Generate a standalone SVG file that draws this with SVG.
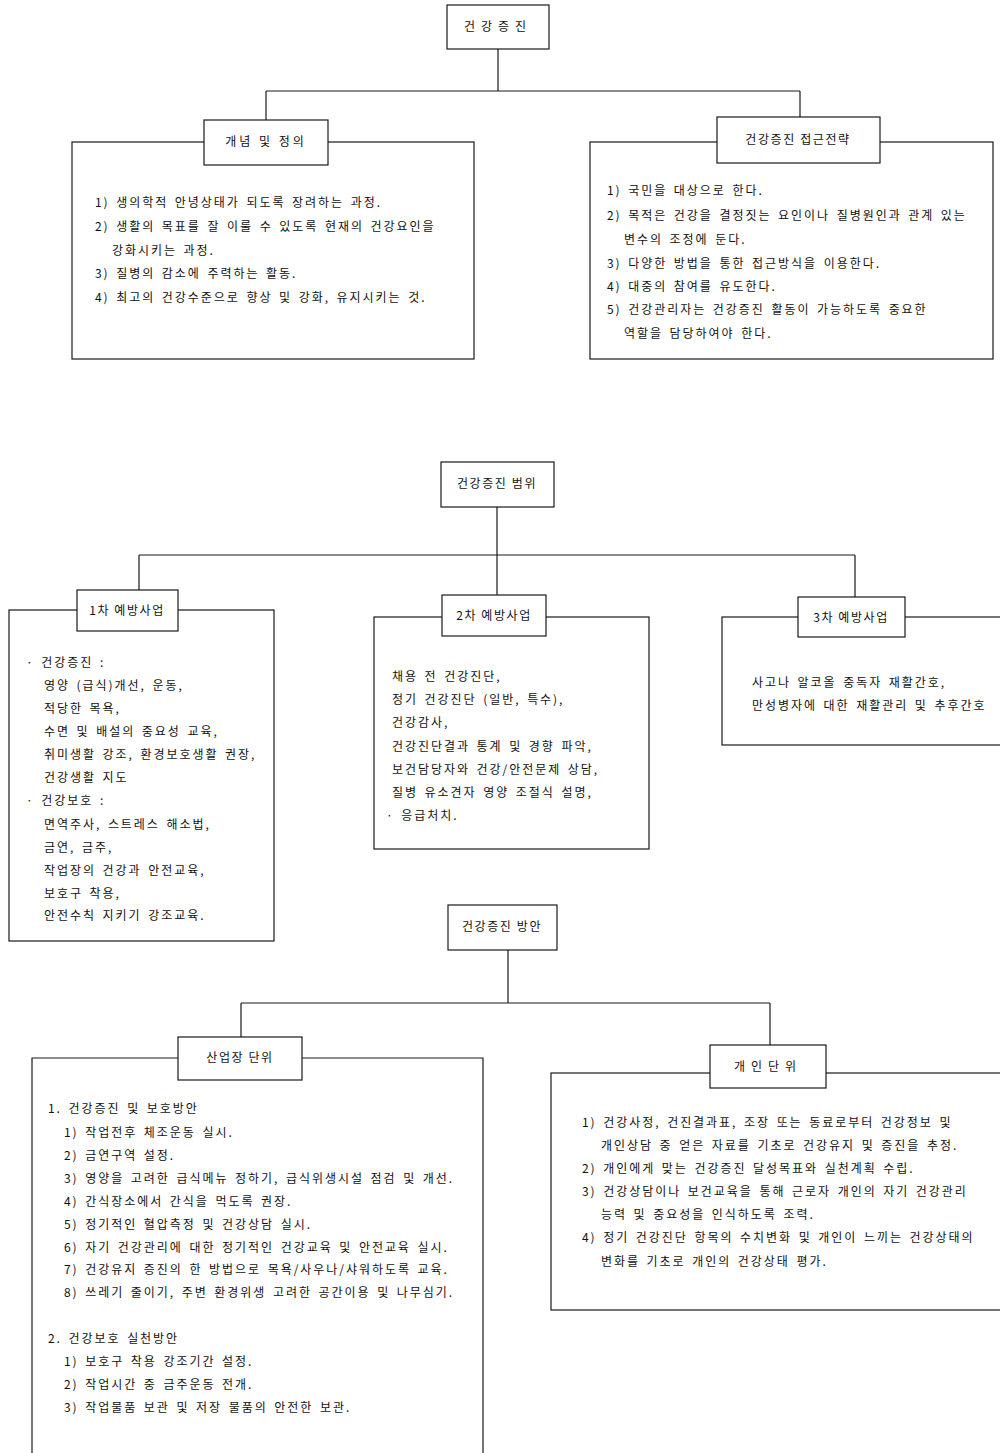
<svg xmlns="http://www.w3.org/2000/svg" width="1000" height="1453" viewBox="0 0 1000 1453">
<style>
.bg{fill:#ffffff}
.box{fill:none;stroke:#1a1a1a;stroke-width:1.2}
.lbl{fill:#ffffff;stroke:#1a1a1a;stroke-width:1.2}
.con{fill:none;stroke:#1a1a1a;stroke-width:1.2}
text{font-family:"Noto Sans CJK KR","Noto Sans",sans-serif;fill:#111111}
.t{font-size:12px;letter-spacing:1.95px;word-spacing:2px}
.h{font-size:12px;letter-spacing:1.6px;text-anchor:middle}
</style>
<rect class="bg" x="0" y="0" width="1000" height="1453"/>
<g id="connectors">
<path class="con" d="M498 49V91M266 91H800M266 91V120M800 91V117"/>
<path class="con" d="M497 507V555M139 555H855M139 555V591M497 555V595M855 555V597"/>
<path class="con" d="M508 950V1003M241 1003H770M241 1003V1037M770 1003V1045"/>
</g>
<g id="n-root">
<rect class="lbl" x="447" y="5" width="102" height="44"/>
<text class="h" x="498" y="31" style="letter-spacing:6px">건강증진</text>
</g>
<g id="n-concept">
<rect class="box" x="72" y="142" width="402" height="217"/>
<rect class="lbl" x="204" y="120" width="124" height="45"/>
<text class="h" x="266" y="146" style="letter-spacing:3px">개념 및 정의</text>
<text class="t" x="95" y="207">1) 생의학적 안녕상태가 되도록 장려하는 과정.</text>
<text class="t" x="95" y="231">2) 생활의 목표를 잘 이룰 수 있도록 현재의 건강요인을</text>
<text class="t" x="112" y="255">강화시키는 과정.</text>
<text class="t" x="95" y="278">3) 질병의 감소에 주력하는 활동.</text>
<text class="t" x="95" y="302">4) 최고의 건강수준으로 향상 및 강화, 유지시키는 것.</text>
</g>
<g id="n-strategy">
<rect class="box" x="590" y="142" width="403" height="217"/>
<rect class="lbl" x="717" y="117" width="163" height="46"/>
<text class="h" x="798" y="144">건강증진 접근전략</text>
<text class="t" x="607" y="195">1) 국민을 대상으로 한다.</text>
<text class="t" x="607" y="220">2) 목적은 건강을 결정짓는 요인이나 질병원인과 관계 있는</text>
<text class="t" x="624" y="244">변수의 조정에 둔다.</text>
<text class="t" x="607" y="268">3) 다양한 방법을 통한 접근방식을 이용한다.</text>
<text class="t" x="607" y="291">4) 대중의 참여를 유도한다.</text>
<text class="t" x="607" y="314">5) 건강관리자는 건강증진 활동이 가능하도록 중요한</text>
<text class="t" x="624" y="338">역할을 담당하여야 한다.</text>
</g>
<g id="n-scope">
<rect class="lbl" x="441" y="462" width="113" height="45"/>
<text class="h" x="497" y="488">건강증진 범위</text>
</g>
<g id="n-primary">
<rect class="box" x="9" y="610" width="265" height="331"/>
<rect class="lbl" x="77" y="590" width="101" height="41"/>
<text class="h" x="127" y="615">1차 예방사업</text>
<text class="t" x="26" y="667">· 건강증진 :</text>
<text class="t" x="44" y="690">영양 (급식)개선, 운동,</text>
<text class="t" x="44" y="713">적당한 목욕,</text>
<text class="t" x="44" y="736">수면 및 배설의 중요성 교육,</text>
<text class="t" x="44" y="759">취미생활 강조, 환경보호생활 권장,</text>
<text class="t" x="44" y="782">건강생활 지도</text>
<text class="t" x="26" y="805">· 건강보호 :</text>
<text class="t" x="44" y="829">면역주사, 스트레스 해소법,</text>
<text class="t" x="44" y="852">금연, 금주,</text>
<text class="t" x="44" y="875">작업장의 건강과 안전교육,</text>
<text class="t" x="44" y="898">보호구 착용,</text>
<text class="t" x="44" y="920">안전수칙 지키기 강조교육.</text>
</g>
<g id="n-secondary">
<rect class="box" x="374" y="617" width="275" height="232"/>
<rect class="lbl" x="442" y="595" width="104" height="41"/>
<text class="h" x="494" y="620">2차 예방사업</text>
<text class="t" x="392" y="681">채용 전 건강진단,</text>
<text class="t" x="392" y="704">정기 건강진단 (일반, 특수),</text>
<text class="t" x="392" y="727">건강감사,</text>
<text class="t" x="392" y="751">건강진단결과 통계 및 경향 파악,</text>
<text class="t" x="392" y="774">보건담당자와 건강/안전문제 상담,</text>
<text class="t" x="392" y="797">질병 유소견자 영양 조절식 설명,</text>
<text class="t" x="386" y="820">· 응급처치.</text>
</g>
<g id="n-tertiary">
<rect class="box" x="722" y="617" width="290" height="128"/>
<rect class="lbl" x="798" y="597" width="107" height="40"/>
<text class="h" x="851" y="622">3차 예방사업</text>
<text class="t" x="752" y="687">사고나 알코올 중독자 재활간호,</text>
<text class="t" x="752" y="710">만성병자에 대한 재활관리 및 추후간호</text>
</g>
<g id="n-method">
<rect class="lbl" x="448" y="905" width="109" height="45"/>
<text class="h" x="502" y="931">건강증진 방안</text>
</g>
<g id="n-workplace">
<path class="box" d="M32 1453V1058H483V1453"/>
<rect class="lbl" x="178" y="1037" width="124" height="43"/>
<text class="h" x="240" y="1062">산업장 단위</text>
<text class="t" x="48" y="1113">1. 건강증진 및 보호방안</text>
<text class="t" x="64" y="1137">1) 작업전후 체조운동 실시.</text>
<text class="t" x="64" y="1160">2) 금연구역 설정.</text>
<text class="t" x="64" y="1183">3) 영양을 고려한 급식메뉴 정하기, 급식위생시설 점검 및 개선.</text>
<text class="t" x="64" y="1206">4) 간식장소에서 간식을 먹도록 권장.</text>
<text class="t" x="64" y="1229">5) 정기적인 혈압측정 및 건강상담 실시.</text>
<text class="t" x="64" y="1252">6) 자기 건강관리에 대한 정기적인 건강교육 및 안전교육 실시.</text>
<text class="t" x="64" y="1274">7) 건강유지 증진의 한 방법으로 목욕/사우나/샤워하도록 교육.</text>
<text class="t" x="64" y="1297">8) 쓰레기 줄이기, 주변 환경위생 고려한 공간이용 및 나무심기.</text>
<text class="t" x="48" y="1343">2. 건강보호 실천방안</text>
<text class="t" x="64" y="1366">1) 보호구 착용 강조기간 설정.</text>
<text class="t" x="64" y="1389">2) 작업시간 중 금주운동 전개.</text>
<text class="t" x="64" y="1412">3) 작업물품 보관 및 저장 물품의 안전한 보관.</text>
</g>
<g id="n-individual">
<rect class="box" x="551" y="1073" width="460" height="237"/>
<rect class="lbl" x="710" y="1045" width="116" height="43"/>
<text class="h" x="768" y="1071" style="letter-spacing:6px">개인단위</text>
<text class="t" x="582" y="1127">1) 건강사정, 건진결과표, 조장 또는 동료로부터 건강정보 및</text>
<text class="t" x="601" y="1150">개인상담 중 얻은 자료를 기초로 건강유지 및 증진을 추정.</text>
<text class="t" x="582" y="1173">2) 개인에게 맞는 건강증진 달성목표와 실천계획 수립.</text>
<text class="t" x="582" y="1196">3) 건강상담이나 보건교육을 통해 근로자 개인의 자기 건강관리</text>
<text class="t" x="601" y="1219">능력 및 중요성을 인식하도록 조력.</text>
<text class="t" x="582" y="1242">4) 정기 건강진단 항목의 수치변화 및 개인이 느끼는 건강상태의</text>
<text class="t" x="601" y="1266">변화를 기초로 개인의 건강상태 평가.</text>
</g>
</svg>
